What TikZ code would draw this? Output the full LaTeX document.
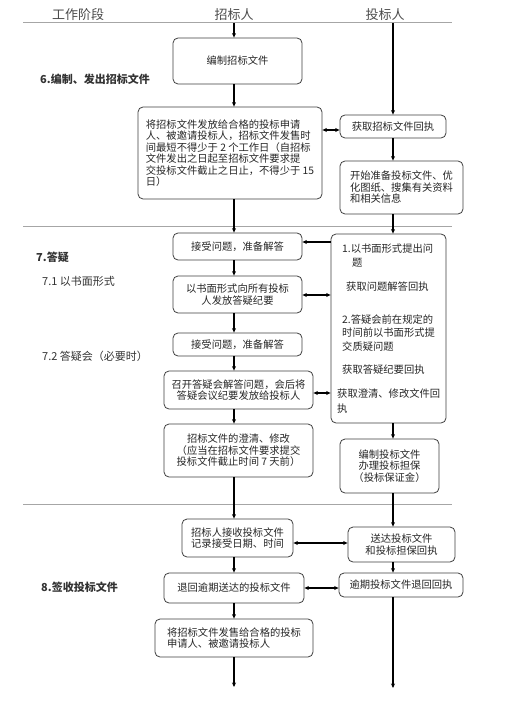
\documentclass[tikz,border=0pt]{standalone}
\usepackage{fontspec}
\setmainfont{Noto Sans CJK SC}
\usetikzlibrary{arrows.meta}
\begin{document}
\begin{tikzpicture}[x=1pt,y=-1pt,
 box/.style={draw=black!75, line width=0.8pt, rounded corners=5pt, inner sep=0pt, align=center, font=\fontsize{10.3}{11.5}\selectfont, text=black!85},
 arr/.style={line width=1.1pt, -{Stealth[length=4.5pt,width=4pt]}},
 dbl/.style={line width=1.1pt, {Stealth[length=4.5pt,width=4pt]}-{Stealth[length=4.5pt,width=4pt]}},
 sepline/.style={draw=black!35, line width=1pt},
 lbl/.style={anchor=west, inner sep=0pt, font=\fontsize{11}{13}\selectfont, text=black!80},
 hdr/.style={inner sep=0pt, font=\fontsize{13}{15}\selectfont, text=black!70},
 tx/.style={anchor=west, inner sep=0pt, font=\fontsize{10.3}{11.5}\selectfont, text=black!85}]
\useasboundingbox (0,0) rectangle (516,703);
\fill[white] (0,0) rectangle (516,703);

% headers and section lines
\node[hdr] (h0) at (78,15) {工作阶段};
\node[hdr] (h1) at (234,15) {招标人};
\node[hdr] (h2) at (385,15) {投标人};
\draw[sepline] (23,23) -- (452,23);
\draw[sepline] (23,226) -- (452,226);
\draw[sepline] (23,504) -- (452,504);

\coordinate (L) at (234,23);
\coordinate (R) at (393,23);

% section labels
\node[lbl, font=\fontsize{11}{13}\selectfont\bfseries] (s6) at (40,79) {6.编制、发出招标文件};
\node[lbl, font=\fontsize{11}{13}\selectfont\bfseries] (s7) at (36,257) {7.答疑};
\node[lbl] (s71) at (42,281) {7.1 以书面形式};
\node[lbl] (s72) at (42,356) {7.2 答疑会（必要时）};
\node[lbl, font=\fontsize{11}{13}\selectfont\bfseries] (s8) at (41,587) {8.签收投标文件};

% left column boxes
\node[box, minimum width=129, minimum height=46] (b1) at (237.5,61) {编制招标文件};
\node[box, minimum width=184, minimum height=92, align=left] (b2) at (230,153)
 {将招标文件发放给合格的投标申请\\人、被邀请投标人，招标文件发售时\\间最短不得少于 2 个工作日（自招标\\文件发出之日起至招标文件要求提\\交投标文件截止之日止，不得少于 15\\日）};
\node[box, minimum width=129, minimum height=27] (b3) at (237.5,246.5) {接受问题，准备解答};
\node[box, minimum width=129, minimum height=37] (b4) at (237.5,294.5) {以书面形式向所有投标\\人发放答疑纪要};
\node[box, minimum width=129, minimum height=23] (b5) at (237.5,344.5) {接受问题，准备解答};
\node[box, minimum width=149, minimum height=38] (b6) at (238.5,390) {召开答疑会解答问题，会后将\\答疑会议纪要发放给投标人};
\node[box, minimum width=149, minimum height=53] (b7) at (238.5,450.5) {招标文件的澄清、修改\\（应当在招标文件要求提交\\投标文件截止时间 7 天前）};
\node[box, minimum width=111, minimum height=38] (b8) at (237.5,538) {招标人接收投标文件\\记录接受日期、时间};
\node[box, minimum width=140, minimum height=30] (b9) at (234,588) {退回逾期送达的投标文件};
\node[box, minimum width=158, minimum height=38, align=left] (b10) at (234,638) {将招标文件发售给合格的投标\\申请人、被邀请投标人};

% right column boxes
\node[box, minimum width=106, minimum height=23] (r1) at (393,126.5) {获取招标文件回执};
\node[box, minimum width=123, minimum height=53, align=left] (r2) at (401.5,187.5) {开始准备投标文件、优\\化图纸、搜集有关资料\\和相关信息};
\node[box, minimum width=115, minimum height=189] (big) at (388.5,328.5) {};
\node[tx] (t1) at (342,249) {1.以书面形式提出问};
\node[tx] (t2) at (352,263) {题};
\node[tx] (t3) at (346,287) {获取问题解答回执};
\node[tx] (t4) at (342,320) {2.答疑会前在规定的};
\node[tx] (t5) at (342,333) {时间前以书面形式提};
\node[tx] (t6) at (342,347) {交质疑问题};
\node[tx] (t7) at (342,370) {获取答疑纪要回执};
\node[tx] (t8) at (337,394) {获取澄清、修改文件回};
\node[tx] (t9) at (337,409) {执};
\node[box, minimum width=99, minimum height=54] (r3) at (389.5,466) {编制投标文件\\办理投标担保\\（投标保证金）};
\node[box, minimum width=107, minimum height=35] (r4) at (401.5,544.5) {送达投标文件\\和投标担保回执};
\node[box, minimum width=124, minimum height=24] (r5) at (401,585) {逾期投标文件退回回执};

\coordinate (endL) at (234,687);
\coordinate (endR) at (393,688);

% left vertical flow
\draw[arr] (L) -- (b1.north -| L);
\draw[arr] (b1.south -| L) -- (b2.north -| L);
\draw[arr] (b2.south -| L) -- (b3.north -| L);
\draw[arr] (b3.south -| L) -- (b4.north -| L);
\draw[arr] (b4.south -| L) -- (b5.north -| L);
\draw[arr] (b5.south -| L) -- (b6.north -| L);
\draw[arr] (b6.south -| L) -- (b7.north -| L);
\draw[arr] (b7.south -| L) -- (b8.north -| L);
\draw[arr] (b8.south -| L) -- (b9.north -| L);
\draw[arr] (b9.south -| L) -- (b10.north -| L);
\draw[arr] (b10.south -| L) -- (endL);

% right vertical flow
\draw[arr] (R) -- (r1.north -| R);
\draw[arr] (r1.south -| R) -- (r2.north -| R);
\draw[arr] (r2.south -| R) -- (big.north -| R);
\draw[arr] (big.south -| R) -- (r3.north -| R);
\draw[arr] (r3.south -| R) -- (r4.north -| R);
\draw[arr] (r4.south -| R) -- (r5.north -| R);
\draw[arr] (r5.south -| R) -- (endR);

% horizontal links
\coordinate (y1) at (0,130);
\coordinate (y2) at (0,242);
\coordinate (y3) at (0,295);
\coordinate (y4) at (0,393);
\coordinate (y5) at (0,543);
\coordinate (y6) at (0,588);
\draw[dbl] (b2.east |- y1) -- (r1.west |- y1);
\draw[arr] (big.west |- y2) -- (b3.east |- y2);
\draw[dbl] (b4.east |- y3) -- (big.west |- y3);
\draw[dbl] (b6.east |- y4) -- (big.west |- y4);
\draw[dbl] (b8.east |- y5) -- (r4.west |- y5);
\draw[dbl] (b9.east |- y6) -- (r5.west |- y6);
\end{tikzpicture}
\end{document}
